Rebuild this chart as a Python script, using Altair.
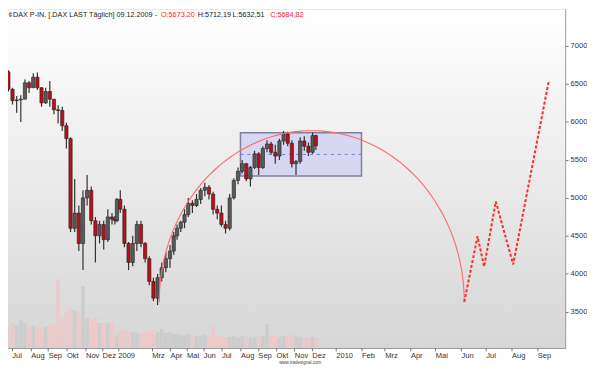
import json
import pandas as pd
import altair as alt

# ---------------- data ----------------
HOLIDAYS = ["2008-12-24", "2008-12-25", "2008-12-26", "2008-12-31", "2009-01-01",
            "2009-04-10", "2009-04-13", "2009-05-01"]
FIRST_DAY = "2008-06-16"
LAST_DAY = "2009-12-09"
N_WEEKS = 78

OPEN = [6790, 6660, 6430, 6280, 6290, 6300, 6515, 6450, 6590, 6450, 6250, 6400, 6300, 6160,
        6150, 5950, 5780, 4600, 4800, 4400, 5000, 5100, 4700, 4500, 4650, 4450, 4750, 4720,
        4700, 4980, 4850, 4400, 4150, 4400, 4650, 4400, 4200, 3900, 3680, 3950, 4080, 4200,
        4300, 4500, 4600, 4680, 4780, 4930, 4900, 4980, 5100, 5140, 5050, 4850, 4800, 4650,
        4600, 5000, 5230, 5350, 5450, 5250, 5400, 5580, 5400, 5650, 5710, 5600, 5550, 5750,
        5840, 5720, 5450, 5480, 5750, 5680, 5600, 5820]
HIGH = [6820, 6680, 6450, 6340, 6350, 6560, 6540, 6640, 6650, 6460, 6450, 6540, 6300, 6220,
        6200, 5990, 5800, 5250, 4900, 5100, 5300, 5150, 4750, 4700, 4700, 4850, 4800, 4760,
        5000, 5100, 4900, 4420, 4500, 4700, 4700, 4420, 4230, 3950, 4000, 4150, 4280, 4380,
        4550, 4650, 4700, 4850, 5000, 4970, 5050, 5130, 5200, 5170, 5080, 4900, 4900, 4700,
        5050, 5260, 5400, 5500, 5460, 5420, 5620, 5600, 5680, 5760, 5740, 5700, 5780, 5880,
        5870, 5760, 5500, 5800, 5810, 5730, 5860, 5830]
LOW = [6620, 6400, 6230, 6120, 6000, 6300, 6380, 6450, 6420, 6200, 6240, 6200, 6100, 5980,
       5880, 5650, 4550, 4550, 4300, 4050, 4900, 4650, 4150, 4400, 4320, 4420, 4650, 4650,
       4680, 4800, 4350, 4050, 4100, 4300, 4350, 4150, 3850, 3640, 3590, 3900, 4020, 4080,
       4250, 4450, 4550, 4600, 4750, 4800, 4880, 4920, 5020, 4980, 4780, 4720, 4620, 4530,
       4570, 4980, 5180, 5320, 5220, 5150, 5380, 5300, 5380, 5600, 5570, 5450, 5500, 5700,
       5680, 5400, 5300, 5450, 5620, 5550, 5580, 5630]
CLOSE = [6660, 6430, 6280, 6290, 6300, 6515, 6450, 6590, 6450, 6250, 6400, 6300, 6160, 6150,
         5950, 5780, 4600, 4800, 4400, 5000, 5100, 4700, 4500, 4650, 4450, 4750, 4720, 4700,
         4980, 4850, 4400, 4150, 4400, 4650, 4400, 4200, 3900, 3680, 3950, 4080, 4200, 4300,
         4500, 4600, 4680, 4780, 4930, 4900, 4980, 5100, 5140, 5050, 4850, 4800, 4650, 4600,
         5000, 5230, 5350, 5450, 5250, 5400, 5580, 5400, 5650, 5710, 5600, 5550, 5750, 5840,
         5720, 5450, 5480, 5750, 5680, 5600, 5820, 5685]
VOLUME = [96, 88, 104, 92, 112, 100, 84, 88, 80, 76, 84, 96, 100, 276, 120, 144, 160, 150,
          140, 248, 120, 110, 120, 100, 100, 100, 104, 40, 50, 72, 72, 68, 64, 60, 60, 64,
          68, 72, 64, 76, 60, 64, 56, 56, 52, 52, 56, 52, 48, 48, 52, 48, 84, 48, 44, 44,
          44, 48, 44, 48, 44, 40, 44, 44, 48, 96, 48, 48, 44, 48, 48, 52, 48, 44, 44, 40,
          44, 40]

# Box (trading range) and arc / projection drawings
BOX_START, BOX_END = "2009-08-03", "2010-02-01"
BOX_TOP, BOX_BOTTOM, BOX_MID = 5858, 5287, 5572
ARC_START, ARC_END = "2009-03-13", "2010-06-05"
ARC_BASE, ARC_PEAK = 3630, 5885
PROJ_DATES = ["2010-06-05", "2010-06-21", "2010-06-29", "2010-07-13", "2010-08-03", "2010-09-15"]
PROJ_VALUES = [3630, 4494, 4094, 4952, 4124, 6542]

TICK_DATES = ["2008-07-01", "2008-08-01", "2008-09-01", "2008-10-01", "2008-11-01", "2008-12-01",
              "2009-01-01", "2009-03-01", "2009-04-01", "2009-05-01", "2009-06-01", "2009-07-01",
              "2009-08-01", "2009-09-01", "2009-10-01", "2009-11-01", "2009-12-01", "2010-01-01",
              "2010-02-01", "2010-03-01", "2010-04-01", "2010-05-01", "2010-06-01", "2010-07-01",
              "2010-08-01", "2010-09-01"]
TICK_LABELS = ["Jul", "Aug", "Sep", "Okt", "Nov", "Dez", "2009", "Mrz", "Apr", "Mai", "Jun", "Jul",
               "Aug", "Sep", "Okt", "Nov", "Dez", "2010", "Feb", "Mrz", "Apr", "Mai", "Jun", "Jul",
               "Aug", "Sep"]
Y_TICKS = [3500, 4000, 4500, 5000, 5500, 6000, 6500, 7000]

# ---------------- bar-position scale (trading days, then calendar days) ----------------
tdays = pd.bdate_range(FIRST_DAY, LAST_DAY, freq="C", holidays=HOLIDAYS)
last_day = tdays[-1]
last_u = len(tdays)


def pos(d):
    d = pd.Timestamp(d)
    if d <= last_day:
        nxt = tdays[tdays >= d][0]
        return int(tdays.get_loc(nxt)) + 1
    return last_u + (d - last_day).days


weeks = pd.date_range(FIRST_DAY, periods=N_WEEKS, freq="W-MON")
week_pos = []
for w in weeks:
    days = tdays[(tdays >= w) & (tdays <= w + pd.Timedelta(days=4))]
    week_pos.append(float(sum(int(tdays.get_loc(x)) + 1 for x in days)) / len(days))

px = pd.DataFrame({"u": week_pos, "o": OPEN, "h": HIGH, "l": LOW, "c": CLOSE, "v": VOLUME})
px["body"] = ["#b8101c" if c < o else "#5a5a5a" for o, c in zip(OPEN, CLOSE)]
px["vcol"] = ["#f0c6c6" if c < o else "#cbcbcb" for o, c in zip(OPEN, CLOSE)]

tick_pos = [pos(d) for d in TICK_DATES]
label_expr = "%s[indexof(%s, datum.value)]" % (json.dumps(TICK_LABELS), json.dumps(tick_pos))

W, H = 561, 341
XDOM = [7.55, 679.7]
YDOM = [3025, 7484]
FONT = "'Liberation Sans', Arial, sans-serif"

xs = alt.Scale(domain=XDOM, nice=False, zero=False, padding=0)
ys = alt.Scale(domain=YDOM, nice=False, zero=False, padding=0)

x_axis = alt.Axis(values=tick_pos, labelExpr=label_expr, orient="bottom", tickSize=3,
                  tickColor="#777", domain=False, grid=False, labelAlign="left",
                  labelBaseline="top", labelPadding=1, labelFontSize=7.6,
                  labelFont=FONT, labelColor="#333", labelOverlap=False, labelFlush=False,
                  labelBound=False, title=None)
y_axis = alt.Axis(orient="right", values=Y_TICKS, tickSize=3, tickColor="#777", domain=False,
                  grid=False, labelFontSize=7.6, labelFont=FONT, labelPadding=2,
                  labelColor="#333", title=None, format="d")


def X(field):
    return alt.X(field, scale=xs, axis=x_axis)


def Y(field):
    return alt.Y(field, scale=ys, axis=y_axis)


one = alt.Data(values=[{"a": 1}])

bg = alt.Chart(one).mark_rect(
    fill={"gradient": "linear", "x1": 0, "y1": 0, "x2": 0, "y2": 1,
          "stops": [{"offset": 0, "color": "#ffffff"}, {"offset": 1, "color": "#d6d6d6"}]}
).encode(x=alt.value(0), x2=alt.value(W), y=alt.value(0), y2=alt.value(H))

vol = alt.Chart(px).mark_bar(size=3.6, clip=True, opacity=0.9).encode(
    x=X("u:Q"),
    y=alt.Y("v:Q", scale=alt.Scale(domain=[0, 1364], nice=False, padding=0), axis=None),
    color=alt.Color("vcol:N", scale=None),
)

box_df = pd.DataFrame({"u1": [pos(BOX_START)], "u2": [pos(BOX_END)],
                       "top": [BOX_TOP], "bot": [BOX_BOTTOM], "mid": [BOX_MID]})
box = alt.Chart(box_df).mark_rect(fill="#cfcff2", fillOpacity=0.75, stroke="#80809a",
                                  strokeWidth=1.5).encode(
    x=X("u1:Q"), x2="u2:Q", y=Y("top:Q"), y2="bot:Q")
mid = alt.Chart(box_df).mark_rule(color="#6f80dd", strokeDash=[3, 4], strokeWidth=1).encode(
    x=X("u1:Q"), x2="u2:Q", y=Y("mid:Q"))

wick = alt.Chart(px).mark_rule(color="#333333", strokeWidth=1.2, clip=True).encode(
    x=X("u:Q"), y=Y("l:Q"), y2="h:Q")
body = alt.Chart(px).mark_bar(size=3.3, stroke="#222222", strokeWidth=0.6, clip=True).encode(
    x=X("u:Q"), y=Y("o:Q"), y2="c:Q", color=alt.Color("body:N", scale=None))

a0, a1 = pos(ARC_START), pos(ARC_END)
arc = alt.Chart(alt.sequence(0, 181, 2, as_="t")).transform_calculate(
    u="%f - %f * cos(datum.t * PI / 180)" % ((a0 + a1) / 2.0, (a1 - a0) / 2.0),
    val="%f + %f * sin(datum.t * PI / 180)" % (ARC_BASE, ARC_PEAK - ARC_BASE),
).mark_line(color="#ff6a6a", strokeWidth=1.1).encode(
    x=X("u:Q"), y=Y("val:Q"), order="t:Q")

proj_df = pd.DataFrame({"u": [pos(d) for d in PROJ_DATES], "val": PROJ_VALUES})
proj = alt.Chart(proj_df).mark_line(color="#ff2a2a", strokeWidth=2, strokeDash=[3, 2]).encode(
    x=X("u:Q"), y=Y("val:Q"))

price = alt.layer(box, mid, wick, body, arc, proj)


def txt(s, x, color, size=7.3, y=1.5, baseline="top"):
    return alt.Chart(one).mark_text(align="left", baseline=baseline, font=FONT, fontSize=size,
                                    color=color).encode(
        x=alt.value(x), y=alt.value(y), text=alt.value(s))


texts = [
    txt("\u00a2", 0.5, "#444"),
    txt("DAX P-IN. [.DAX LAST T\u00e4glich] 09.12.2009 -", 5, "#222"),
    txt("O:5673,20", 154, "#ff2020"),
    txt("H:5712,19", 191, "#222"),
    txt("L:5632,51", 226, "#222"),
    txt("C:5684,82", 264, "#ff2020"),
    txt("www.tradesignal.com", 273, "#444", size=4.5, y=H + 15, baseline="middle"),
]

chart = alt.layer(bg, vol, price, *texts).resolve_scale(y="independent").properties(
    width=W, height=H, padding=0
).configure_view(stroke="#8c8c8c", strokeWidth=1)

chart.save("out.html", embed_options={"renderer": "svg", "actions": False})
